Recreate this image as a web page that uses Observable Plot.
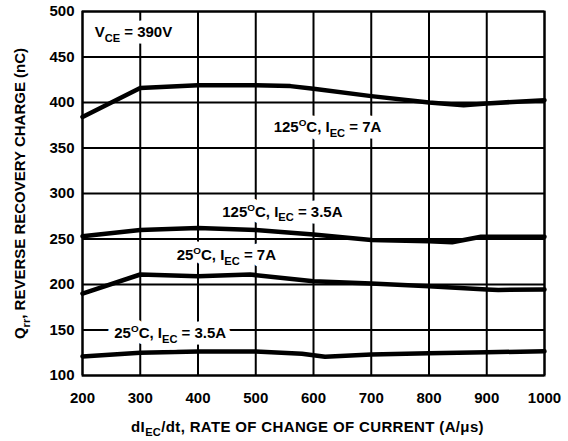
<!DOCTYPE html>
<html>
<head>
<meta charset="utf-8">
<script src="https://cdn.jsdelivr.net/npm/d3@7"></script>
<script src="https://cdn.jsdelivr.net/npm/@observablehq/plot@0.6"></script>
<style>
  html, body { margin: 0; padding: 0; background: #fff; }
  #chart { width: 568px; height: 441px; }
  .xtitle text { letter-spacing: 0.35px; }
</style>
</head>
<body>
<div id="chart"></div>
<script>
// ---- data ----
const xTicks = [200, 300, 400, 500, 600, 700, 800, 900, 1000];
const yTicks = [100, 150, 200, 250, 300, 350, 400, 450, 500];

const s125_7A_x  = [200, 300, 400, 500, 560, 600, 700, 800, 860, 900, 1000];
const s125_7A_y  = [384, 416, 419, 419, 418, 415, 407, 400, 397, 399, 402.5];

const s125_35A_x = [200, 300, 400, 500, 600, 700, 800, 840, 890, 1000];
const s125_35A_y = [253, 260, 262, 260, 255, 249, 247.5, 246.5, 252.5, 252.5];

const s25_7A_x   = [200, 300, 400, 490, 600, 700, 800, 900, 920, 1000];
const s25_7A_y   = [190, 211, 209, 211, 203.6, 201, 198, 194.5, 194, 194.5];

const s25_35A_x  = [200, 300, 400, 500, 580, 620, 700, 800, 900, 1000];
const s25_35A_y  = [121, 125, 126.4, 126.4, 124, 120.5, 123, 124.5, 125.5, 126.7];

const seriesNames = ["125C_7A", "125C_3.5A", "25C_7A", "25C_3.5A"];

const labelTexts = ["V_{CE} = 390V", "125^{O}C, I_{EC} = 7A", "125^{O}C, I_{EC} = 3.5A", "25^{O}C, I_{EC} = 7A", "25^{O}C, I_{EC} = 3.5A"];
const labelX = [221, 531, 442, 363, 255];
const labelY = [477, 373, 280, 232, 146];

const xTitle = "dI_{EC}/dt, RATE OF CHANGE OF CURRENT (A/μs)";
const yTitle = "Q_{rr}, REVERSE RECOVERY CHARGE (nC)";

// ---- build tables ----
const allX = [s125_7A_x, s125_35A_x, s25_7A_x, s25_35A_x];
const allY = [s125_7A_y, s125_35A_y, s25_7A_y, s25_35A_y];
const rows = [];
seriesNames.forEach((name, i) => {
  allX[i].forEach((x, j) => rows.push({series: name, x, y: allY[i][j]}));
});
const labels = labelTexts.map((t, i) => ({text: t, x: labelX[i], y: labelY[i]}));

const FONT = "'Liberation Sans', Arial, Helvetica, sans-serif";
const FS = 15;

const plot = Plot.plot({
  width: 568,
  height: 441,
  marginLeft: 82,
  marginRight: 24,
  marginTop: 11,
  marginBottom: 66,
  style: {fontFamily: FONT, fontWeight: "bold", fontSize: FS + "px", color: "black", background: "white"},
  x: {domain: [200, 1000], ticks: xTicks},
  y: {domain: [100, 500], ticks: yTicks},
  marks: [
    Plot.gridX(xTicks, {stroke: "black", strokeOpacity: 1, strokeWidth: 2}),
    Plot.gridY(yTicks, {stroke: "black", strokeOpacity: 1, strokeWidth: 2}),
    Plot.frame({stroke: "black", strokeWidth: 2}),
    Plot.axisX({ticks: xTicks, tickSize: 0, tickPadding: 17, label: null, fontSize: FS, fontWeight: "bold", tickFormat: d => String(d)}),
    Plot.axisY({ticks: yTicks, tickSize: 0, tickPadding: 8, label: null, fontSize: FS, fontWeight: "bold", tickFormat: d => String(d)}),
    Plot.line(rows, {x: "x", y: "y", z: "series", stroke: "black", strokeWidth: 4.5, strokeLinejoin: "round"}),
    // white label backgrounds (halo layer)
    Plot.text(labels, {x: "x", y: "y", text: "text", textAnchor: "start", fontSize: FS, fontWeight: "bold", fill: "white", stroke: "white", strokeWidth: 13, strokeLinejoin: "round"}),
    // label glyphs
    Plot.text(labels, {x: "x", y: "y", text: "text", textAnchor: "start", fontSize: FS, fontWeight: "bold", fill: "black"}),
    Plot.text([xTitle], {frameAnchor: "bottom", textAnchor: "middle", dy: 56, dx: -6, fontSize: FS, fontWeight: "bold", fill: "black", className: "xtitle"}),
    Plot.text([yTitle], {frameAnchor: "left", textAnchor: "middle", dx: -62, rotate: -90, fontSize: FS, fontWeight: "bold", fill: "black"})
  ]
});

document.getElementById("chart").appendChild(plot);

// ---- subscripts / superscripts ----
function richify(svg) {
  svg.querySelectorAll("text").forEach(t => {
    const s = t.textContent;
    if (!/[_^]\{/.test(s)) return;
    const fs = parseFloat(getComputedStyle(t).fontSize) || FS;
    while (t.firstChild) t.removeChild(t.firstChild);
    const re = /([_^])\{([^}]*)\}/g;
    let last = 0, m, shift = 0;
    const ns = "http://www.w3.org/2000/svg";
    const add = (txt, kind) => {
      const ts = document.createElementNS(ns, "tspan");
      let target = 0;
      if (kind === "_") { target = fs * 0.32; ts.setAttribute("font-size", (fs * 0.74) + "px"); }
      if (kind === "^") { target = -fs * 0.4; ts.setAttribute("font-size", (fs * 0.66) + "px"); }
      const dy = target - shift;
      if (dy !== 0) ts.setAttribute("dy", dy + "px");
      shift = target;
      ts.textContent = txt;
      t.appendChild(ts);
    };
    while ((m = re.exec(s))) {
      if (m.index > last) add(s.slice(last, m.index), null);
      add(m[2], m[1]);
      last = re.lastIndex;
    }
    if (last < s.length) add(s.slice(last), null);
  });
}
richify(plot);
</script>
</body>
</html>
